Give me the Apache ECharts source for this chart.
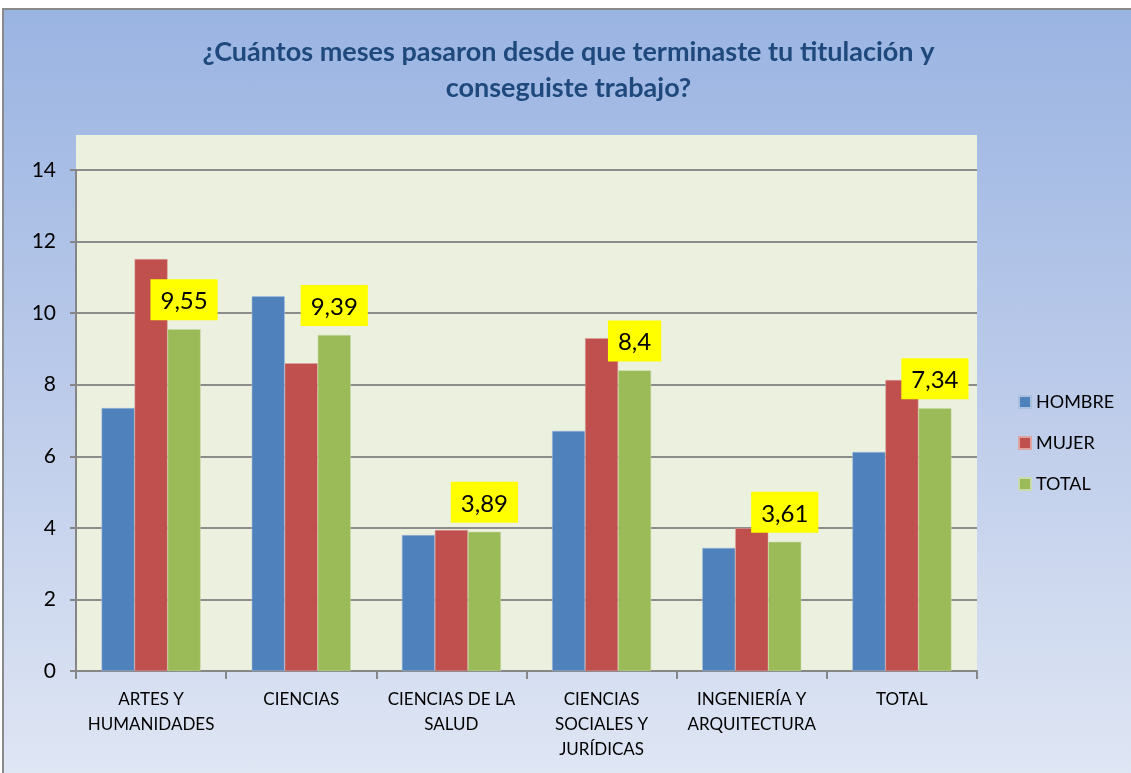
<!DOCTYPE html>
<html>
<head>
    <meta charset="utf-8">
    <title>Meses hasta conseguir trabajo</title>
    <script src="https://cdn.jsdelivr.net/npm/echarts@6/dist/echarts.min.js"></script>
    <style>
        html, body {
            margin: 0;
            padding: 0;
            width: 100%;
            height: 100%;
            background: #fff;
            overflow: hidden;
        }
        #main {
            position: absolute;
            left: 2px;
            top: 8px;
            width: 1129px;
            height: 765px;
            border-top: 2px solid #8a8a8a;
            border-left: 2px solid #8a8a8a;
            background: linear-gradient(to bottom, #9ab4e2 0%, #bccbea 50%, #dfe6f4 100%);
        }
    </style>
</head>
<body>
    <div id="main"></div>
    <script>
        const categories = [
            'ARTES Y\nHUMANIDADES',
            'CIENCIAS',
            'CIENCIAS DE LA\nSALUD',
            'CIENCIAS\nSOCIALES Y\nJURÍDICAS',
            'INGENIERÍA Y\nARQUITECTURA',
            'TOTAL'
        ];
        const hombre = [7.35, 10.47, 3.80, 6.71, 3.44, 6.12];
        const mujer = [11.51, 8.60, 3.94, 9.30, 3.99, 8.13];
        const total = [9.55, 9.39, 3.89, 8.4, 3.61, 7.34];

        const font = "Lato, 'Open Sans', sans-serif";
        const chart = echarts.init(document.getElementById('main'));

        chart.setOption({
            backgroundColor: 'transparent',
            textStyle: { fontFamily: font },
            title: {
                text: '¿Cuántos meses pasaron desde que terminaste tu titulación y\nconseguiste trabajo?',
                left: 'center',
                top: 19,
                textStyle: {
                    fontFamily: font,
                    fontSize: 27,
                    fontWeight: 'bold',
                    color: '#1f497d',
                    lineHeight: 36
                }
            },
            // plot area backdrop (extends above the 14 line as in the original)
            graphic: [{
                type: 'rect',
                z: -10,
                shape: { x: 72, y: 125, width: 901, height: 536 },
                style: { fill: '#ebf0df' }
            }],
            legend: {
                orient: 'vertical',
                left: 1009,
                top: 378,
                itemWidth: 12,
                itemHeight: 12,
                itemGap: 23,
                icon: 'rect',
                textStyle: { fontFamily: font, fontSize: 18, color: '#000' },
                data: ['HOMBRE', 'MUJER', 'TOTAL']
            },
            grid: {
                left: 72,
                top: 160,
                width: 901,
                height: 501
            },
            xAxis: {
                type: 'category',
                data: categories,
                axisLine: { lineStyle: { color: '#868686', width: 2 } },
                axisTick: { show: true, length: 8, lineStyle: { color: '#868686', width: 2 } },
                axisLabel: {
                    color: '#000',
                    fontSize: 17,
                    lineHeight: 25,
                    margin: 16,
                    interval: 0
                }
            },
            yAxis: {
                type: 'value',
                min: 0,
                max: 14,
                interval: 2,
                axisLine: { show: true, lineStyle: { color: '#868686', width: 2 } },
                axisTick: { show: true, length: 6, lineStyle: { color: '#868686', width: 2 } },
                axisLabel: { color: '#000', fontSize: 21, margin: 20 },
                splitLine: { lineStyle: { color: '#8c8c8c', width: 2 } }
            },
            series: [
                {
                    name: 'HOMBRE',
                    type: 'bar',
                    data: hombre,
                    barWidth: 33,
                    barGap: '0%',
                    itemStyle: { color: '#4f81bd', borderColor: '#a9c0de', borderWidth: 0.5 }
                },
                {
                    name: 'MUJER',
                    type: 'bar',
                    data: mujer,
                    barWidth: 33,
                    barGap: '0%',
                    itemStyle: { color: '#c0504d', borderColor: '#dfa3a1', borderWidth: 0.5 }
                },
                {
                    name: 'TOTAL',
                    type: 'bar',
                    data: total,
                    barWidth: 33,
                    barGap: '0%',
                    itemStyle: { color: '#9bbb59', borderColor: '#cadcab', borderWidth: 0.5 },
                    label: {
                        show: true,
                        position: 'top',
                        distance: 9,
                        formatter: p => String(p.value).replace('.', ','),
                        backgroundColor: '#ffff00',
                        padding: [10, 10, 7, 10],
                        color: '#000',
                        fontSize: 24,
                        fontFamily: font
                    }
                }
            ]
        });

        window.addEventListener('resize', () => chart.resize());
    </script>
</body>
</html>
